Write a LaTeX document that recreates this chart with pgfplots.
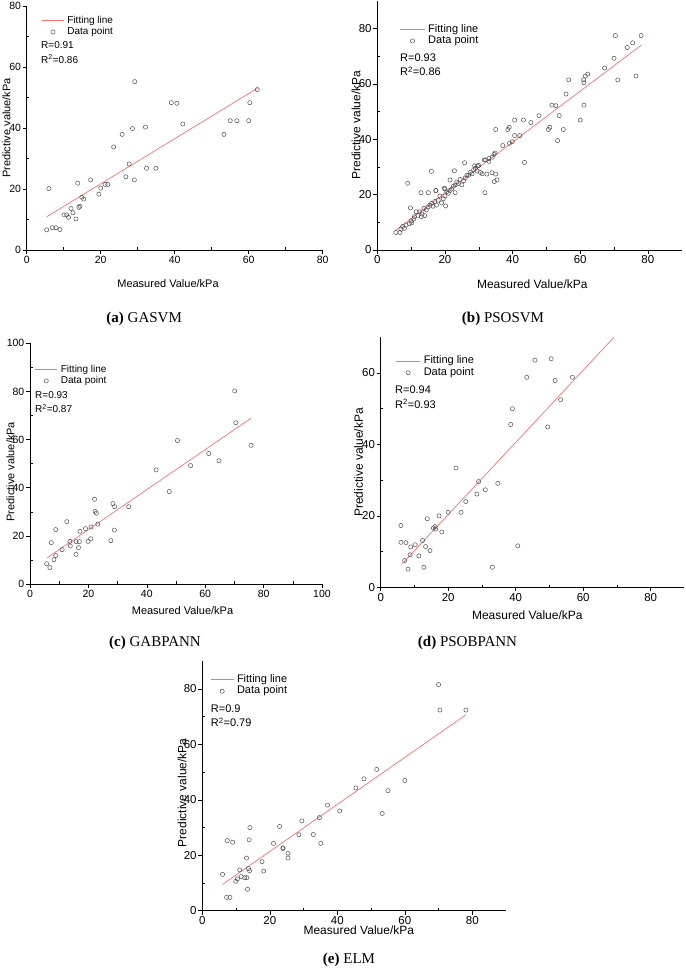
\documentclass[border=0pt]{standalone}
\usepackage{fontspec}
\setmainfont{Liberation Sans}
\newfontfamily\timesfont{Liberation Serif}
\usepackage{pgfplots}
\pgfplotsset{compat=1.18}
\definecolor{fitred}{RGB}{255,110,110}
\definecolor{ptgray}{RGB}{80,80,80}
\newcommand{\fs}[1]{\fontsize{#1}{#1}\selectfont}
\pgfplotsset{
  myax/.style={scale only axis,
    axis x line*=bottom, axis y line*=left,
    axis line style={-, line width=0.6pt, black},
    tick align=outside, major tick length=4pt, minor tick length=-2.5pt,
    minor x tick num=1, minor y tick num=1,
    every tick/.style={black, line width=0.5pt},
    /pgf/number format/assume math mode=true,
    xticklabel style={inner sep=1.5pt},
    yticklabel style={inner sep=1.5pt},
    legend cell align=left,
  },
  fitline/.style={fitred, line width=0.7pt, no marks},
  pts/.style={only marks, mark=o, mark size=2.1pt, mark options={ptgray, line width=0.5pt}},
  legline/.style={legend image code/.code={\draw[##1, line width=1pt] (0pt,0pt)--(#1,0pt);}},
  legmark/.style={legend image code/.code={\draw[##1] plot coordinates {(#1,0pt)};}},
  legA/.style={legend style={draw=none, fill=none, inner sep=0pt, anchor=north west,
     font=\fs{#1}, nodes={inner sep=0.5pt, text height=8pt, text depth=2.5pt}, column sep=2.5pt}},
}
\begin{document}
\begin{tikzpicture}
\useasboundingbox (0,0) rectangle (685pt,968pt);
% ---------------- (a) GASVM
\begin{axis}[myax, at={(26.7pt,718pt)}, anchor=south west, width=296pt, height=244pt,
  xmin=0, xmax=80, ymin=0, ymax=80, xtick={0,20,...,80}, ytick={0,20,...,80},
  ticklabel style={font=\fs{10.5}},
  legA=10, legend style={at={(axis description cs:0.049,0.965)}}]
\addplot[fitline, legline=22pt] coordinates {(5.4,10.9) (62.3,53.0)};
\addlegendentry{Fitting line}
\addplot[pts, legmark=11pt] coordinates {
(5.4,6.6) (6.0,20.1) (6.9,7.3) (7.9,7.3) (9.0,6.7) (10.1,11.5) (10.8,11.5) (11.3,10.7)
(12.0,13.6) (12.5,12.2) (13.3,10.2) (13.8,21.9) (14.1,14.0) (14.4,14.3) (14.9,17.3) (15.4,16.7)
(17.3,23.0) (19.5,18.3) (20.0,20.3) (21.2,21.5) (21.9,21.5) (23.5,33.8) (25.8,37.9) (26.8,24.0)
(27.7,28.2) (28.6,39.8) (29.1,23.0) (29.2,55.2) (32.1,40.3) (32.4,26.8) (34.9,26.8) (39.1,48.3)
(40.6,48.1) (42.2,41.3) (53.3,37.9) (55.0,42.4) (56.8,42.4) (60.0,42.4) (60.3,48.3) (62.3,52.6)};
\addlegendentry{Data point}
\end{axis}
% ---------------- (b) PSOSVM
\begin{axis}[myax, at={(377.3pt,718pt)}, anchor=south west, width=304.4pt, height=249.3pt,
  xmin=0, xmax=90, ymin=0, ymax=90, xtick={0,20,...,80}, ytick={0,20,...,80},
  ticklabel style={font=\fs{11.5}},
  legA=11, legend style={at={(axis description cs:0.073,0.9085)}}]
\addplot[fitline, legline=24.5pt] coordinates {(5.5,7.2) (78.1,74.0)};
\addlegendentry{Fitting line}
\addplot[pts, legmark=12.25pt] coordinates {
(5.5,6.3) (6.7,6.3) (9.0,24.1) (9.8,15.2) (12.9,20.7) (15.1,20.7) (16.0,28.4) (17.3,21.4)
(19.8,22.3) (20.2,15.9) (21.5,25.3) (22.8,28.6) (23.0,20.7) (25.8,31.5) (28.8,30.4) (29.6,30.4)
(31.6,32.5) (31.8,20.7) (32.4,27.4) (33.0,33.0) (33.9,27.9) (34.6,24.7) (35.0,27.4) (35.4,25.3)
(35.0,43.5) (37.1,37.7) (38.6,43.5) (39.0,44.3) (39.1,38.5) (39.9,39.1) (40.6,46.9) (40.6,41.3)
(42.1,41.3) (43.2,46.9) (43.5,31.6) (45.4,46.0) (47.8,48.5) (50.6,43.5) (51.0,44.3) (51.6,52.3)
(52.8,52.1) (53.3,39.5) (53.8,48.5) (55.0,43.5) (55.8,56.3) (56.6,61.4) (60.0,46.9) (61.0,61.4)
(61.1,60.4) (61.1,52.3) (61.5,62.8) (62.2,63.5) (67.2,65.7) (70.0,69.2) (70.4,77.4) (71.1,61.4)
(73.9,73.1) (75.5,74.8) (76.5,62.8) (78.0,77.4)
(7.0,7.5) (7.5,8.5) (8.0,7.8) (8.5,9.0) (9.5,9.5) (10,10.5) (10.2,9.8) (10.8,11.2) (11,12.0)
(11.5,13.8) (12,12.5) (12.5,13.8) (13,12.0) (13.2,13.0) (13.8,15.0) (14,12.4) (14.5,14.5)
(15,15.5) (15.5,16.2) (16,16.8) (16.5,15.8) (17,17.5) (17.3,21.5) (17.5,16.2) (18,18.0)
(18.5,19.5) (19,17.0) (19.5,18.5) (20,19.5) (20,22.0) (20.5,21.0) (21,20.5) (21.5,21.5)
(22,22.0) (22.5,23.0) (23,23.5) (23.5,24.5) (24,24.0) (24.5,25.5) (25,23.5) (25.5,25.0)
(26,26.0) (26.5,27.0) (27,27.0) (27.5,28.0) (28,27.5) (28.5,29.0) (29,29.5) (29.5,28.5)
(30,30.5) (30.5,28.0) (31,27.5) (32,32.5) (33,32.0) (34,33.5) (34.5,34.5) (34.8,35.0)};
\addlegendentry{Data point}
\end{axis}
% ---------------- (c) GABPANN
\begin{axis}[myax, at={(30pt,384pt)}, anchor=south west, width=292pt, height=240.7pt,
  xmin=0, xmax=100, ymin=0, ymax=100, xtick={0,20,...,100}, ytick={0,20,...,100},
  ticklabel style={font=\fs{10.5}},
  legA=10, legend style={at={(axis description cs:0.015,0.916)}}]
\addplot[fitline, legline=22.3pt] coordinates {(5.9,10.9) (75.6,68.8)};
\addlegendentry{Fitting line}
\addplot[pts, legmark=11.15pt] coordinates {
(5.7,8.4) (6.8,6.8) (7.3,17.2) (8.2,10.1) (8.8,11.8) (8.8,22.6) (11.0,14.3) (12.6,25.9)
(13.7,17.7) (13.8,15.8) (15.8,12.3) (15.8,17.6) (16.6,15.1) (16.9,17.6) (17.1,21.9) (19.0,23.0)
(19.9,17.7) (20.8,18.8) (20.9,23.7) (22.1,35.2) (22.3,30.2) (22.7,29.4) (23.2,24.9) (27.7,18.0)
(28.4,33.4) (29.0,32.1) (28.9,22.4) (33.8,32.1) (43.2,47.4) (47.7,38.4) (50.5,59.6) (55.0,49.2)
(61.2,54.2) (64.7,51.2) (70.1,80.2) (70.5,67.0) (75.7,57.6)};
\addlegendentry{Data point}
\end{axis}
% ---------------- (d) PSOBPANN
\begin{axis}[myax, at={(380.7pt,380.7pt)}, anchor=south west, width=303.75pt, height=250pt,
  xmin=0, xmax=90, ymin=0, ymax=70, xtick={0,20,...,80}, ytick={0,20,...,60},
  ticklabel style={font=\fs{11.5}},
  legA=11, legend style={at={(axis description cs:0.048,0.928)}}]
\addplot[fitline, legline=24.3pt] coordinates {(6.2,6.4) (69.1,70.0)};
\addlegendentry{Fitting line}
\addplot[pts, legmark=12.15pt] coordinates {
(6.0,17.3) (6.0,12.6) (7.1,7.5) (7.5,12.5) (8.1,5.1) (8.9,11.3) (8.7,9.1) (10.2,11.9)
(11.3,8.8) (12.4,13.1) (12.8,5.6) (13.3,11.4) (13.8,19.2) (14.6,10.3) (15.6,16.6) (16.3,16.3)
(16.1,17.0) (17.3,20.0) (18.1,15.5) (20.0,21.0) (22.3,33.4) (23.8,21.0) (25.2,24.0) (28.5,26.1)
(29.0,29.6) (31.0,27.3) (33.1,5.6) (34.7,29.1) (38.5,45.6) (39.0,50.0) (40.6,11.6) (43.3,58.8)
(45.7,63.6) (49.5,44.9) (50.5,64.0) (51.7,57.9) (53.3,52.5) (56.8,58.8)};
\addlegendentry{Data point}
\end{axis}
% ---------------- (e) ELM
\begin{axis}[myax, at={(202.3pt,57.3pt)}, anchor=south west, width=303.75pt, height=249.4pt,
  xmin=0, xmax=90, ymin=0, ymax=90, xtick={0,20,...,80}, ytick={0,20,...,80},
  ticklabel style={font=\fs{11.5}},
  legA=11, legend style={at={(axis description cs:0.026,0.950)}}]
\addplot[fitline, legline=22.6pt] coordinates {(6.0,9.5) (78.1,70.7)};
\addlegendentry{Fitting line}
\addplot[pts, legmark=11.3pt] coordinates {
(6.0,13.1) (7.2,4.8) (7.4,25.3) (8.2,4.8) (9.0,24.7) (9.9,10.6) (10.4,11.5) (11.1,14.7)
(11.5,12.3) (12.6,11.9) (13.2,11.9) (13.1,19.0) (13.4,7.7) (13.7,15.2) (14.0,14.4) (13.9,25.6)
(14.1,30.0) (17.7,17.7) (18.2,14.3) (21.1,24.3) (22.9,30.4) (23.9,22.7) (23.9,22.4) (25.4,20.7)
(25.4,19.0) (28.6,27.4) (29.5,32.4) (32.9,27.5) (34.7,33.6) (35.1,24.3) (37.1,38.1) (40.7,36.0)
(45.5,44.3) (47.9,47.6) (51.7,51.0) (53.3,35.1) (55.0,43.3) (60.0,47.0) (70.0,81.6) (70.4,72.4)
(78.1,72.4)};
\addlegendentry{Data point}
\end{axis}
% ---------------- R values
\node[anchor=base west, font=\fs{10}, inner sep=0pt] at (41pt,919.4pt) {R=0.91};
\node[anchor=base west, font=\fs{10}, inner sep=0pt] at (41pt,904.5pt) {R\textsuperscript{2}=0.86};
\node[anchor=base west, font=\fs{11}, inner sep=0pt] at (400pt,906.8pt) {R=0.93};
\node[anchor=base west, font=\fs{11}, inner sep=0pt] at (400pt,892pt) {R\textsuperscript{2}=0.86};
\node[anchor=base west, font=\fs{10}, inner sep=0pt] at (35pt,569.4pt) {R=0.93};
\node[anchor=base west, font=\fs{10}, inner sep=0pt] at (35pt,555pt) {R\textsuperscript{2}=0.87};
\node[anchor=base west, font=\fs{11}, inner sep=0pt] at (395pt,574pt) {R=0.94};
\node[anchor=base west, font=\fs{11}, inner sep=0pt] at (395pt,559.5pt) {R\textsuperscript{2}=0.93};
\node[anchor=base west, font=\fs{11}, inner sep=0pt] at (210.7pt,255.8pt) {R=0.9};
\node[anchor=base west, font=\fs{11}, inner sep=0pt] at (210.7pt,241pt) {R\textsuperscript{2}=0.79};
% ---------------- axis titles
\node[anchor=base, font=\fs{11}, inner sep=0pt] at (168pt,680.5pt) {Measured Value/kPa};
\node[anchor=base, font=\fs{12}, inner sep=0pt] at (532.3pt,679.7pt) {Measured Value/kPa};
\node[anchor=base, font=\fs{11}, inner sep=0pt] at (182.5pt,353pt) {Measured Value/kPa};
\node[anchor=base, font=\fs{12}, inner sep=0pt] at (527.3pt,348.7pt) {Measured Value/kPa};
\node[anchor=base, font=\fs{12}, inner sep=0pt] at (358.8pt,33pt) {Measured Value/kPa};
\node[rotate=90, anchor=center, font=\fs{11}, inner sep=0pt] at (6.5pt,840pt) {Predictive value/kPa};
\node[rotate=90, anchor=center, font=\fs{12}, inner sep=0pt] at (356pt,843pt) {Predictive value/kPa};
\node[rotate=90, anchor=center, font=\fs{11}, inner sep=0pt] at (10.5pt,496.3pt) {Predictive value/kPa};
\node[rotate=90, anchor=center, font=\fs{12}, inner sep=0pt] at (358.7pt,505.5pt) {Predictive value/kPa};
\node[rotate=90, anchor=center, font=\fs{12}, inner sep=0pt] at (182pt,175.3pt) {Predictive value/kPa};
% ---------------- captions
\node[anchor=base, font=\timesfont\fs{15}, inner sep=0pt] at (144.2pt,645.3pt) {\textbf{(a)} GASVM};
\node[anchor=base, font=\timesfont\fs{15}, inner sep=0pt] at (503pt,645.3pt) {\textbf{(b)} PSOSVM};
\node[anchor=base, font=\timesfont\fs{15}, inner sep=0pt] at (155pt,321.3pt) {\textbf{(c)} GABPANN};
\node[anchor=base, font=\timesfont\fs{15}, inner sep=0pt] at (467.5pt,321.3pt) {\textbf{(d)} PSOBPANN};
\node[anchor=base, font=\timesfont\fs{15}, inner sep=0pt] at (349pt,5pt) {\textbf{(e)} ELM};
\end{tikzpicture}
\end{document}
